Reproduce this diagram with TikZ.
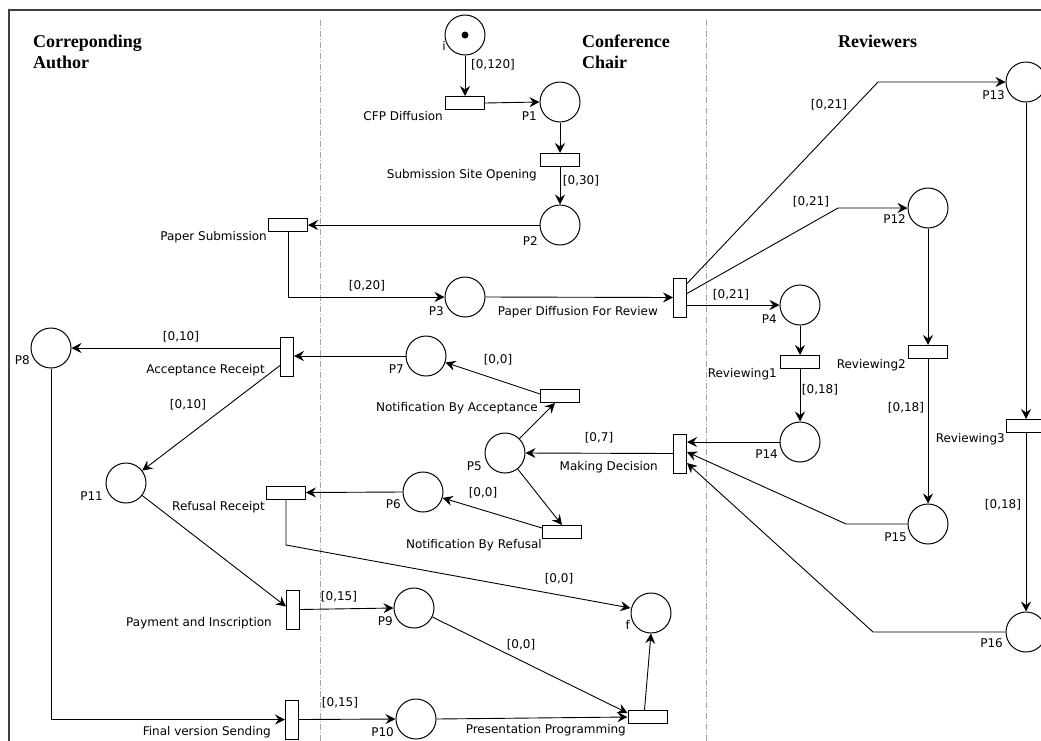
\documentclass[tikz,border=0pt]{standalone}
\usepackage{fontspec}
\setmainfont{DejaVu Sans}
\newfontfamily\titlefont{Liberation Serif}
\usetikzlibrary{arrows.meta,calc}
\begin{document}
\begin{tikzpicture}[x=1pt,y=-1pt,
  pl/.style={circle,draw,line width=1pt,minimum size=40pt,inner sep=0pt},
  trh/.style={rectangle,draw,line width=1pt,minimum width=39pt,minimum height=13pt,inner sep=0pt},
  trv/.style={rectangle,draw,line width=1pt,minimum width=13pt,minimum height=39pt,inner sep=0pt},
  flow/.style={line width=0.9pt,-{Stealth[length=10pt,width=10pt,inset=3.5pt]}},
  lbl/.style={font=\fontsize{12}{14}\selectfont,inner sep=0pt,anchor=base east},
  alab/.style={font=\fontsize{12}{14}\selectfont,inner sep=0pt},
  lanetitle/.style={font=\titlefont\bfseries\fontsize{18}{21}\selectfont,inner sep=0pt,anchor=base west},
  lane/.style={draw=gray!70,line width=0.8pt,dash pattern=on 6pt off 2pt on 1pt off 2pt},
  frameline/.style={draw=black!75,line width=1.3pt},
]
\useasboundingbox (0,0) rectangle (1041,740);
\clip (0,0) rectangle (1041,740);

% frame and lanes
\draw[frameline] (9,745) -- (9,10) -- (1045,10);
\draw[lane] (320,20) -- (320,745);
\draw[lane] (706,20) -- (706,745);

% lane titles
\node[lanetitle] (t1a) at (33,47) {Correponding};
\node[lanetitle] (t1b) at (33,68) {Author};
\node[lanetitle] (t2a) at (582,47) {Conference};
\node[lanetitle] (t2b) at (582,68) {Chair};
\node[lanetitle] (t3) at (838,47) {Reviewers};

% places
\node[pl] (i) at (465,35) {};
\node[circle,fill,minimum size=7pt,inner sep=0pt] (tok) at (i) {};
\node[pl] (p1) at (560,102) {};
\node[pl] (p2) at (560,225) {};
\node[pl] (p3) at (465,297) {};
\node[pl] (p4) at (800,305) {};
\node[pl] (p5) at (505,453) {};
\node[pl] (p6) at (423,492) {};
\node[pl] (p7) at (426,356) {};
\node[pl] (p8) at (51,348) {};
\node[pl] (p9) at (414,608) {};
\node[pl] (p10) at (416,719) {};
\node[pl] (p11) at (126,483) {};
\node[pl] (p12) at (928,208) {};
\node[pl] (p13) at (1026,82) {};
\node[pl] (p14) at (800,442) {};
\node[pl] (p15) at (928,524) {};
\node[pl] (p16) at (1026,632) {};
\node[pl] (f) at (651,613) {};

% transitions
\node[trh] (cfp) at (465,103) {};
\node[trh] (sso) at (560,160) {};
\node[trh] (ps) at (288,225) {};
\node[trv] (pdfr) at (680,297.5) {};
\node[trh] (rev1) at (800,362) {};
\node[trh] (rev2) at (928,352) {};
\node[trh] (rev3) at (1026,426) {};
\node[trv] (md) at (680,453.5) {};
\node[trh] (nba) at (560,396) {};
\node[trh] (nbr) at (562,532) {};
\node[trv] (ar) at (287,356.5) {};
\node[trh] (rr) at (286,492.5) {};
\node[trv] (pi) at (293,609.5) {};
\node[trv] (fvs) at (292,719.5) {};
\node[trh] (pp) at (647.5,717) {};

% node labels
\node[lbl] (li) at (446,50) {i};
\node[lbl] (lcfp) at (443,120) {CFP Diffusion};
\node[lbl] (lp1) at (537,120) {P1};
\node[lbl] (lsso) at (537,178) {Submission Site Opening};
\node[lbl] (lp2) at (538,245) {P2};
\node[lbl] (lps) at (267,240) {Paper Submission};
\node[lbl] (lp3) at (444,315) {P3};
\node[lbl] (lpdfr) at (658,315) {Paper Diffusion For Review};
\node[lbl] (lp4) at (777,323) {P4};
\node[lbl] (lrev1) at (777,377) {Reviewing1};
\node[lbl] (lp14) at (778,458) {P14};
\node[lbl] (lrev2) at (906,368) {Reviewing2};
\node[lbl] (lrev3) at (1005,442) {Reviewing3};
\node[lbl] (lp12) at (906,223) {P12};
\node[lbl] (lp13) at (1005,99) {P13};
\node[lbl] (lp15) at (907,541) {P15};
\node[lbl] (lp16) at (1003,647) {P16};
\node[lbl] (lmd) at (658,470) {Making Decision};
\node[lbl] (lp5) at (482,470) {P5};
\node[lbl] (lnba) at (538,411) {Notification By Acceptance};
\node[lbl] (lp7) at (404,373) {P7};
\node[lbl] (lar) at (265,373) {Acceptance Receipt};
\node[lbl] (lp8) at (30,364) {P8};
\node[lbl] (lp11) at (103,500) {P11};
\node[lbl] (lrr) at (265,510) {Refusal Receipt};
\node[lbl] (lp6) at (401,508) {P6};
\node[lbl] (lnbr) at (542,548) {Notification By Refusal};
\node[lbl] (lpi) at (272,626) {Payment and Inscription};
\node[lbl] (lp9) at (393,625) {P9};
\node[lbl] (lf) at (630,629) {f};
\node[lbl] (lfvs) at (271,735) {Final version Sending};
\node[lbl] (lp10) at (394,736) {P10};
\node[lbl] (lpp) at (626,733) {Presentation Programming};

% bend points
\coordinate (b13) at (878,82);
\coordinate (b12) at (838,208);
\coordinate (b15) at (846,524);
\coordinate (b16) at (873,632);
\coordinate (brr) at (286,545);

% arcs
\draw[flow] (i) -- (cfp);
\draw[flow] (cfp.east) -- (p1.west);
\draw[flow] (p1) -- (sso);
\draw[flow] (sso) -- (p2);
\draw[flow] (p2.west) -- (ps.east);
\draw[flow] (ps.south) |- (p3.west);
\draw[flow] (p3.east) -- (pdfr.west);
\draw[flow] ([yshift=14pt]pdfr.east) -- (b13) -- (p13.west);
\draw[flow] ([yshift=4pt]pdfr.east) -- (b12) -- (p12.west);
\draw[flow] (pdfr.east |- p4.west) -- (p4.west);
\draw[flow] (p4) -- (rev1);
\draw[flow] (rev1) -- (p14);
\draw[flow] (p12) -- (rev2);
\draw[flow] (rev2) -- (p15);
\draw[flow] (p13) -- (rev3);
\draw[flow] (rev3) -- (p16);
\draw[flow] (p14.west) -- (md.east |- p14.west);
\draw[flow] (p15.west) -- (b15) -- ([yshift=1.5pt]md.east);
\draw[flow] (p16.west) -- (b16) -- ([yshift=-9.5pt]md.east);
\draw[flow] (md.west) -- (p5.east);
\draw[flow] (p5) -- ([xshift=-5pt]nba.south);
\draw[flow] (p5) -- (nbr.north);
\draw[flow] ([yshift=2pt]nba.west) -- (p7);
\draw[flow] ([yshift=4pt]nbr.west) -- (p6);
\draw[flow] (p7.west) -- (ar.east |- p7.west);
\draw[flow] (p6.west) -- (rr.east);
\draw[flow] (ar.west |- p8.east) -- (p8.east);
\draw[flow] ([yshift=-9pt]ar.west) -- (p11);
\draw[flow] (p11) -- ([yshift=3pt]pi.west);
\draw[flow] (rr.south) -- (brr) -- ([yshift=5pt]f.west);
\draw[flow] (p8.south) |- (fvs.west);
\draw[flow] (pi.east) -- (p9.west);
\draw[flow] (fvs.east) -- (p10.west);
\draw[flow] (p9) -- ([yshift=4pt]pp.west);
\draw[flow] (p10.east) -- (pp.west);
\draw[flow] ([xshift=-3pt]pp.north) -- (f.south);

% arc labels
\node[alab] (a1) at (493,65) {[0,120]};
\node[alab] (a2) at (581,181) {[0,30]};
\node[alab] (a3) at (367,286) {[0,20]};
\node[alab] (a4) at (731,295) {[0,21]};
\node[alab] (a5) at (811,202) {[0,21]};
\node[alab] (a6) at (829,105) {[0,21]};
\node[alab] (a7) at (820,390) {[0,18]};
\node[alab] (a8) at (906,408) {[0,18]};
\node[alab] (a9) at (1003,505) {[0,18]};
\node[alab] (a10) at (599,438) {[0,7]};
\node[alab] (a11) at (498,360) {[0,0]};
\node[alab] (a12) at (483,493) {[0,0]};
\node[alab] (a13) at (181,337) {[0,10]};
\node[alab] (a14) at (188,405) {[0,10]};
\node[alab] (a15) at (339,597) {[0,15]};
\node[alab] (a16) at (340,703) {[0,15]};
\node[alab] (a17) at (559,579) {[0,0]};
\node[alab] (a18) at (521,645) {[0,0]};
\end{tikzpicture}
\end{document}
